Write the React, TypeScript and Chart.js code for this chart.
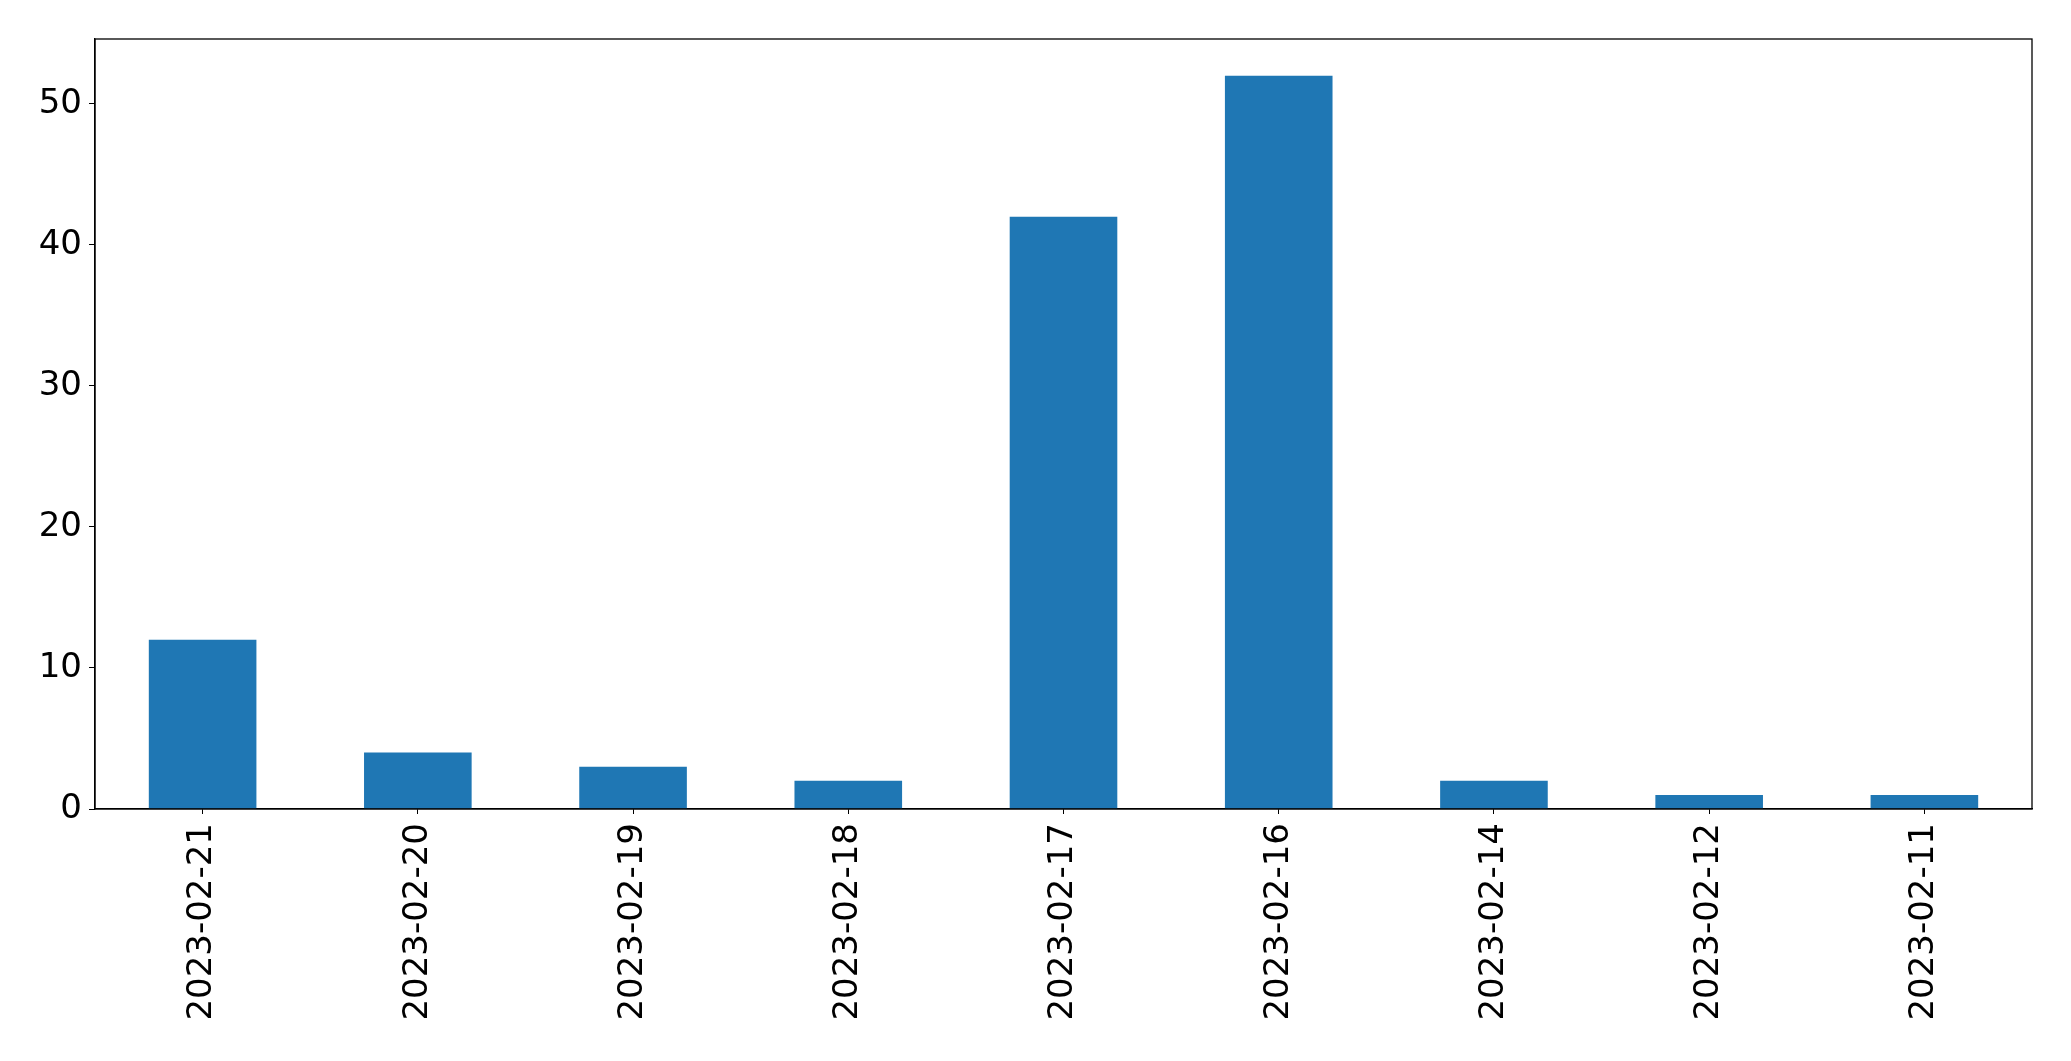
import React, { useEffect, useRef } from "react";
import { Chart, registerables } from "chart.js";

Chart.register(...registerables);

const categories = [
  "2023-02-21",
  "2023-02-20",
  "2023-02-19",
  "2023-02-18",
  "2023-02-17",
  "2023-02-16",
  "2023-02-14",
  "2023-02-12",
  "2023-02-11",
];
const counts = [12, 4, 3, 2, 42, 52, 2, 1, 1];
const yTicks = [0, 10, 20, 30, 40, 50];
const yMax = 54.6;

const W = 2071;
const H = 1061;
const LEFT = 95;
const TOP = 39;
const RIGHT = 39;
const BOTTOM = 252;

const frame = {
  id: "frame",
  afterDraw(chart: any) {
    const { ctx, chartArea } = chart;
    ctx.save();
    ctx.strokeStyle = "#000";
    ctx.lineWidth = 1.3;
    ctx.strokeRect(chartArea.left, chartArea.top, chartArea.right - chartArea.left, chartArea.bottom - chartArea.top);
    ctx.restore();
  },
};

export default function App() {
  const ref = useRef<HTMLCanvasElement>(null);
  useEffect(() => {
    document.body.style.margin = "0";
    const chart = new Chart(ref.current!, {
      type: "bar",
      data: {
        labels: categories,
        datasets: [
          {
            data: counts,
            backgroundColor: "#1f77b4",
            borderWidth: 0,
            categoryPercentage: 1,
            barPercentage: 0.5,
          },
        ],
      },
      options: {
        animation: false,
        responsive: false,
        devicePixelRatio: 1,
        layout: { padding: { left: 0, top: TOP, right: RIGHT, bottom: 0 } },
        plugins: { legend: { display: false }, tooltip: { enabled: false } },
        scales: {
          x: {
            offset: true,
            grid: { display: true, drawOnChartArea: false, drawTicks: true, tickLength: 5, tickColor: "#000", offset: false },
            border: { display: true, color: "#000", width: 1.3 },
            ticks: {
              color: "#000",
              font: { family: "DejaVu Sans", size: 34 },
              minRotation: 90,
              maxRotation: 90,
              padding: 9,
              autoSkip: false,
            },
            afterFit(scale: any) {
              scale.height = BOTTOM;
            },
          },
          y: {
            min: 0,
            max: yMax,
            grid: { display: true, drawOnChartArea: false, drawTicks: true, tickLength: 6, tickColor: "#000" },
            border: { display: true, color: "#000", width: 1.3 },
            ticks: {
              color: "#000",
              font: { family: "DejaVu Sans", size: 34 },
              padding: 7,
              stepSize: 10,
              includeBounds: false,
            } as any,
            afterBuildTicks(scale: any) {
              scale.ticks = yTicks.map((v) => ({ value: v }));
            },
            afterFit(scale: any) {
              scale.width = LEFT;
            },
          },
        },
      },
      plugins: [frame],
    });
    return () => chart.destroy();
  }, []);
  return (
    <div style={{ position: "absolute", left: 0, top: 0, width: W, height: H, background: "#fff" }}>
      <canvas ref={ref} width={W} height={H} style={{ display: "block" }} />
    </div>
  );
}
